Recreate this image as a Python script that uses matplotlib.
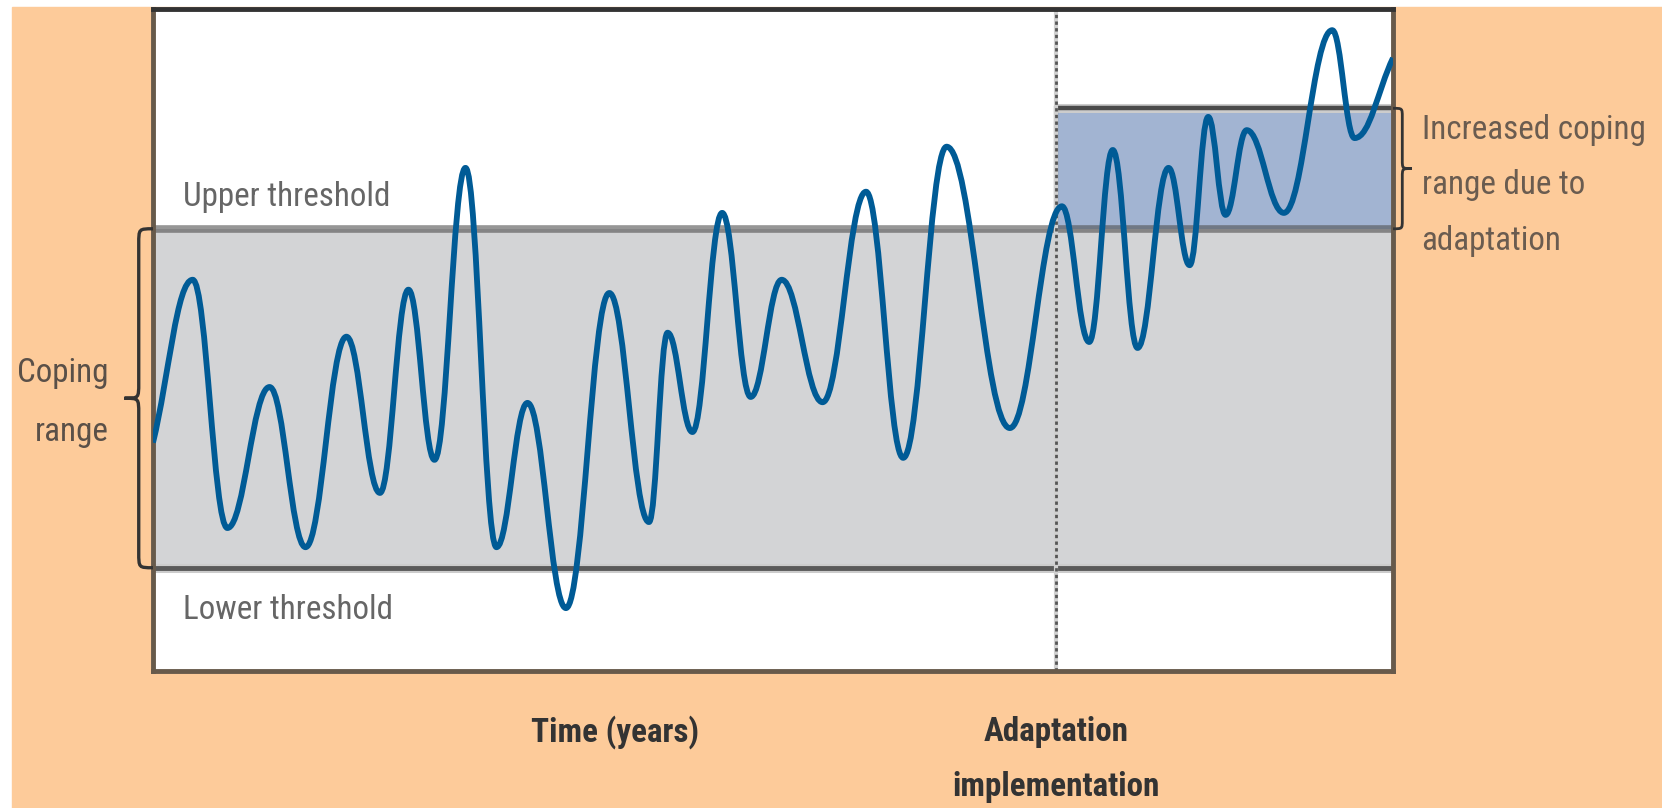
import numpy as np
import matplotlib
matplotlib.use('Agg')
import matplotlib.pyplot as plt
from matplotlib.path import Path
from matplotlib.patches import PathPatch, Rectangle
from matplotlib import font_manager

"""
Coping range diagram: climate variable wandering inside / outside a coping
range, with the range widened after adaptation
"""

# peaks and troughs of the climate variable
time_pts = [0, 3.2, 6.0, 9.4, 12.3, 15.6, 18.3, 20.6, 22.7, 25.2, 27.7, 30.2,
            33.3, 36.8, 40.0, 41.5, 43.5, 45.9, 48.2, 50.7, 54.0, 57.5, 60.5,
            64.0, 69.1, 73.3, 75.5, 77.4, 79.4, 81.9, 83.6, 85.1, 86.5, 88.2,
            91.2, 95.1, 96.9, 100]
value_pts = [34.5, 59.1, 21.6, 42.9, 18.7, 50.5, 26.9, 57.6, 31.9, 76.0, 18.7,
             40.5, 9.5, 57.1, 22.5, 51.1, 36.1, 69.2, 41.4, 59.1, 40.6, 72.4,
             32.2, 79.2, 36.7, 70.2, 49.7, 78.7, 48.8, 76.0, 61.3, 83.7, 68.9,
             81.7, 69.2, 96.8, 80.5, 92.6]

lower_threshold = 15.6
upper_threshold = 66.8
new_upper_threshold = 85.0
adaptation_time = 72.8

labels = {
  'upper': 'Upper threshold',
  'lower': 'Lower threshold',
  'coping': ['Coping', 'range'],
  'time': 'Time (years)',
  'adapt': ['Adaptation', 'implementation'],
  'increased': ['Increased coping', 'range due to', 'adaptation'],
}

# the original uses a very narrow face, take the narrowest we have
fonts = font_manager.fontManager.ttflist
names = set(f.name for f in fonts)
FONT, STRETCH = 'Roboto', 'normal'
for cand in ['Liberation Sans Narrow', 'Roboto Condensed', 'Open Sans Condensed',
             'Noto Sans Condensed']:
  if cand in names:
    FONT = cand
    break
else:
  if any(f.name == 'DejaVu Sans' and str(f.stretch) in ('condensed', '300')
         for f in fonts):
    FONT, STRETCH = 'DejaVu Sans', 'condensed'
plt.rcParams['font.family'] = [FONT, 'DejaVu Sans']
plt.rcParams['font.stretch'] = STRETCH

ORANGE = '#fdcb9a'
GREY = '#d3d4d6'
BLUE = '#a2b4d2'
LINE = '#005b96'
BORDER = '#675a4b'


def wave_path(t, v, k=0.4):
  # smooth curve through the extrema, flat tangent at each peak / trough
  verts = [(t[0], v[0])]
  codes = [Path.MOVETO]
  n = len(t)
  for i in range(n - 1):
    dx = t[i + 1] - t[i]
    if i == 0:
      c1 = (t[i] + k*dx, v[i] + k*(v[i + 1] - v[i]))
    else:
      c1 = (t[i] + k*dx, v[i])
    if i + 1 == n - 1:
      c2 = (t[i + 1] - k*dx, v[i + 1] - k*(v[i + 1] - v[i]))
    else:
      c2 = (t[i + 1] - k*dx, v[i + 1])
    verts += [c1, c2, (t[i + 1], v[i + 1])]
    codes += [Path.CURVE4]*3
  return Path(verts, codes)


def brace_path(x0, y0, y1, w, r):
  # vertical curly brace from y0 to y1, attached at x0, tip at x0 + w
  ym = 0.5*(y0 + y1)
  xs = x0 + 0.5*w
  xt = x0 + w
  verts = [(x0, y0), (xs, y0), (xs, y0), (xs, y0 + r),
           (xs, ym - r),
           (xs, ym), (xs, ym), (xt, ym),
           (xs, ym), (xs, ym), (xs, ym + r),
           (xs, y1 - r),
           (xs, y1), (xs, y1), (x0, y1)]
  codes = [Path.MOVETO] + [Path.CURVE4]*3 + [Path.LINETO] + [Path.CURVE4]*3 \
          + [Path.CURVE4]*3 + [Path.LINETO] + [Path.CURVE4]*3
  return Path(verts, codes)


fig = plt.figure(figsize=(16.62, 8.08), dpi=100)
fig.patch.set_facecolor('white')
fig.add_artist(Rectangle((12/1662, 0), 1, 1 - 7/808, transform=fig.transFigure,
                         color=ORANGE, zorder=0))

ax = fig.add_axes([153/1662, 1 - 671/808, 1240/1662, 662/808])
ax.set_xlim(0, 100)
ax.set_ylim(0, 100)
ax.set_xticks([])
ax.set_yticks([])
ax.set_facecolor('white')
for side in ['left', 'right', 'bottom']:
  ax.spines[side].set_color(BORDER)
  ax.spines[side].set_linewidth(3.5)
ax.spines['top'].set_color('#333333')
ax.spines['top'].set_linewidth(3.5)

ax.axhspan(lower_threshold, upper_threshold, color=GREY, lw=0, zorder=1)
ax.fill_between([adaptation_time, 100], upper_threshold, new_upper_threshold,
                color=BLUE, lw=0, zorder=1)
ax.plot([adaptation_time, 100], [new_upper_threshold]*2, color='#cccccc', lw=6.5,
        zorder=1.5, solid_capstyle='butt')
ax.plot([adaptation_time, 100], [new_upper_threshold]*2, color='#4a4a4a', lw=3.2,
        zorder=2, solid_capstyle='butt')
ax.plot([adaptation_time]*2, [upper_threshold, new_upper_threshold],
        color='#4a4a4a', lw=3, zorder=2)

ax.axhline(upper_threshold, color='#505050', alpha=0.6, lw=5.5, zorder=2)
ax.axhline(lower_threshold, color='#cccccc', lw=6.5, zorder=1.9)
ax.axhline(lower_threshold, color='#5a5a5a', lw=3.5, zorder=2)
ax.axvline(adaptation_time, color='#d0d0d0', lw=3, zorder=2)
ax.axvline(adaptation_time, color='#555555', lw=2, ls=(0, (1.2, 1.2)), zorder=2.1)

ax.add_patch(PathPatch(wave_path(time_pts, value_pts), fill=False, ec=LINE,
                       lw=4.2, joinstyle='round', capstyle='butt', zorder=3))

# braces
ax.add_patch(PathPatch(brace_path(0, lower_threshold, upper_threshold, -2.3, 2.3),
                       fill=False, ec='#333333', lw=2.4, clip_on=False, zorder=4))
ax.add_patch(PathPatch(brace_path(100, upper_threshold, new_upper_threshold, 1.5, 1.3),
                       fill=False, ec='#333333', lw=2.0, clip_on=False, zorder=4))

# font size picked so that 'Upper threshold' is as wide as in the original
renderer = fig.canvas.get_renderer()
probe = ax.text(0, 0, labels['upper'], fontsize=20)
fs = 20*207.0/probe.get_window_extent(renderer).width
probe.remove()

ax.text(2.4, 70.3, labels['upper'], color='#666666', fontsize=fs, va='baseline')
ax.text(2.4, 7.8, labels['lower'], color='#666666', fontsize=fs, va='baseline')
for txt, y in zip(labels['coping'], [43.6, 34.8]):
  ax.text(-3.55, y, txt, color='#5a5048', fontsize=fs, ha='right', va='baseline')
ax.text(37.3, -10.6, labels['time'], color='#333333', fontsize=fs, ha='center',
        va='baseline', fontweight='bold')
for txt, y in zip(labels['adapt'], [-10.6, -18.9]):
  ax.text(adaptation_time, y, txt, color='#333333', fontsize=fs, ha='center',
          va='baseline', fontweight='bold')
for txt, y in zip(labels['increased'], [80.4, 72.0, 63.6]):
  ax.text(102.3, y, txt, color='#6a5c50', fontsize=fs, ha='left', va='baseline')

fig.savefig('out.png', dpi=100)
